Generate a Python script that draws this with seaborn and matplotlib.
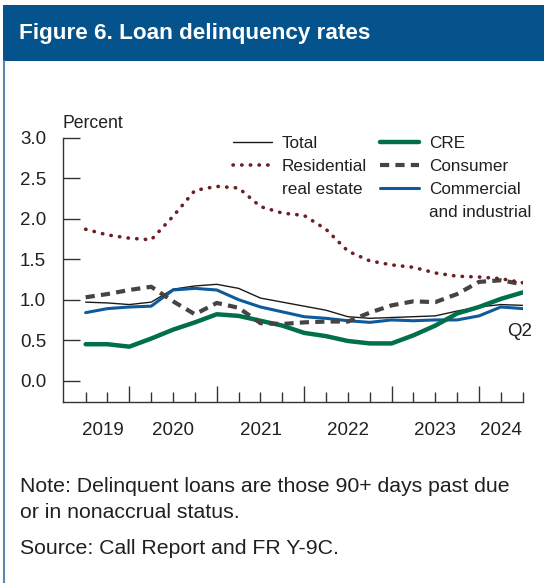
import matplotlib
matplotlib.use("Agg")
import matplotlib.pyplot as plt
from matplotlib.lines import Line2D
from matplotlib.patches import Rectangle
import seaborn as sns
import pandas as pd

# Quarterly data, 2019 Q2 .. 2024 Q2 (index 0..20)
quarters = list(range(21))
total = [0.97, 0.96, 0.94, 0.97, 1.13, 1.17, 1.19, 1.14, 1.02, 0.97, 0.92,
         0.87, 0.79, 0.77, 0.78, 0.79, 0.80, 0.86, 0.91, 0.94, 0.93]
residential = [1.87, 1.80, 1.76, 1.74, 2.03, 2.35, 2.40, 2.38, 2.15, 2.07, 2.04,
               1.87, 1.60, 1.48, 1.43, 1.40, 1.33, 1.29, 1.28, 1.26, 1.21]
cre = [0.45, 0.45, 0.42, 0.52, 0.63, 0.72, 0.82, 0.80, 0.74, 0.68, 0.59,
       0.55, 0.49, 0.46, 0.46, 0.56, 0.68, 0.83, 0.91, 1.01, 1.09]
consumer = [1.03, 1.07, 1.12, 1.16, 0.98, 0.82, 0.96, 0.90, 0.71, 0.70, 0.72,
            0.73, 0.73, 0.84, 0.93, 0.98, 0.97, 1.07, 1.22, 1.24, 1.19]
cni = [0.84, 0.89, 0.91, 0.92, 1.12, 1.14, 1.12, 1.00, 0.91, 0.85, 0.79,
       0.77, 0.74, 0.72, 0.75, 0.74, 0.75, 0.75, 0.80, 0.91, 0.89]

year_labels = ["2019", "2020", "2021", "2022", "2023", "2024"]
year_pos = [0.8, 4, 8, 12, 16, 19]
year_end_ticks = [2, 6, 10, 14, 18]
y_ticks = [0.0, 0.5, 1.0, 1.5, 2.0, 2.5, 3.0]

df = pd.DataFrame({"q": quarters, "total": total, "residential": residential,
                   "cre": cre, "consumer": consumer, "cni": cni})

BLUE_HDR = "#04538C"
C_TOTAL = "#1a1a1a"
C_RES = "#6E1F26"
C_CRE = "#00704A"
C_CONS = "#444444"
C_CNI = "#0E5A9A"
TXT = "#231F20"

sns.set_style("white")
plt.rcParams["font.family"] = ["Liberation Sans", "DejaVu Sans"]
FS = 13.5
FS_LEG = 12.3

RES_DASH = (0, (0.1, 2.3))
CONS_DASH = (0, (2.2, 1.5))

fig = plt.figure(figsize=(5.44, 5.83), dpi=100)

# header band and left border
fig.patches.append(Rectangle((3 / 544, 1 - 61 / 583), 1, 56 / 583, transform=fig.transFigure,
                             facecolor=BLUE_HDR, edgecolor="none", zorder=0))
fig.lines.append(Line2D([3.5 / 544, 3.5 / 544], [0, 1 - 61 / 583], transform=fig.transFigure,
                        color="#5B86B0", lw=1.5))
fig.text(19 / 544, 1 - 33 / 583, "Figure 6. Loan delinquency rates", color="white",
         fontsize=16.2, fontweight="bold", va="center", ha="left")

ax = fig.add_axes([62.7 / 544, 1 - 401.7 / 583, (522.7 - 62.7) / 544, (401.7 - 137.8) / 583])

sns.lineplot(data=df, x="q", y="total", ax=ax, color=C_TOTAL, lw=1.0, zorder=3)
sns.lineplot(data=df, x="q", y="cni", ax=ax, color=C_CNI, lw=2.2, zorder=4)
sns.lineplot(data=df, x="q", y="cre", ax=ax, color=C_CRE, lw=3.2, zorder=5)
sns.lineplot(data=df, x="q", y="consumer", ax=ax, color=C_CONS, lw=3.0,
             linestyle=CONS_DASH, zorder=6)
sns.lineplot(data=df, x="q", y="residential", ax=ax, color=C_RES, lw=2.6,
             linestyle=RES_DASH, dash_capstyle="round", zorder=7)

ax.set_xlim(-1.05, 20)
ax.set_ylim(-0.26, 3.0)
ax.set_xlabel("")
ax.set_ylabel("")

for side in ["top", "right"]:
    ax.spines[side].set_visible(False)
for side in ["left", "bottom"]:
    ax.spines[side].set_color("#333333")
    ax.spines[side].set_linewidth(1.0)

ax.set_yticks(y_ticks)
ax.set_yticklabels([f"{v:.1f}" for v in y_ticks])
ax.tick_params(axis="y", direction="in", length=12, width=1, color="#333333",
               pad=12, labelsize=FS, labelcolor=TXT, left=True)

ax.set_xticks(year_end_ticks)
ax.set_xticklabels([])
ax.set_xticks([q for q in quarters if q not in year_end_ticks], minor=True)
ax.tick_params(axis="x", which="major", direction="in", length=11.5, width=1,
               color="#333333", bottom=True)
ax.tick_params(axis="x", which="minor", direction="in", length=7, width=1,
               color="#333333", bottom=True)

sec = ax.secondary_xaxis("bottom")
sec.set_xticks(year_pos)
sec.set_xticklabels(year_labels)
sec.tick_params(length=0, pad=14.5, labelsize=FS, labelcolor=TXT)
sec.spines["bottom"].set_visible(False)

ax.grid(False)
ax.set_facecolor("none")

fig.text(63 / 544, 1 - 123 / 583, "Percent", fontsize=12.7,
         color=TXT, va="center", ha="left")
ax.text(19.88, 0.61, "Q2", fontsize=FS, color=TXT, va="center", ha="center")

# legends
h_total = Line2D([], [], color=C_TOTAL, lw=1.0)
h_res = Line2D([], [], color=C_RES, lw=2.6, linestyle=RES_DASH, dash_capstyle="round")
h_cre = Line2D([], [], color=C_CRE, lw=3.2)
h_cons = Line2D([], [], color=C_CONS, lw=3.0, linestyle=CONS_DASH)
h_cni = Line2D([], [], color=C_CNI, lw=2.2)
h_blank = Line2D([], [], color="none")

leg_kw = dict(loc="upper left", frameon=False, borderpad=0, borderaxespad=0,
              handlelength=2.28, handletextpad=0.58, labelspacing=0.46,
              fontsize=FS_LEG, labelcolor=TXT)
leg1 = fig.legend(handles=[h_total, h_res, h_blank],
                  labels=["Total", "Residential", "real estate"],
                  bbox_to_anchor=(233 / 544, 1 - 136 / 583), **leg_kw)
leg2 = fig.legend(handles=[h_cre, h_cons, h_cni, h_blank],
                  labels=["CRE", "Consumer", "Commercial", "and industrial"],
                  bbox_to_anchor=(380 / 544, 1 - 136 / 583), **leg_kw)

FS_NOTE = 15.3
fig.text(20 / 544, 1 - 487 / 583, "Note: Delinquent loans are those 90+ days past due",
         fontsize=FS_NOTE, color=TXT, va="center", ha="left")
fig.text(20 / 544, 1 - 512 / 583, "or in nonaccrual status.",
         fontsize=FS_NOTE, color=TXT, va="center", ha="left")
fig.text(20 / 544, 1 - 548 / 583, "Source: Call Report and FR Y-9C.",
         fontsize=FS_NOTE, color=TXT, va="center", ha="left")

fig.savefig("out.png", dpi=100)
